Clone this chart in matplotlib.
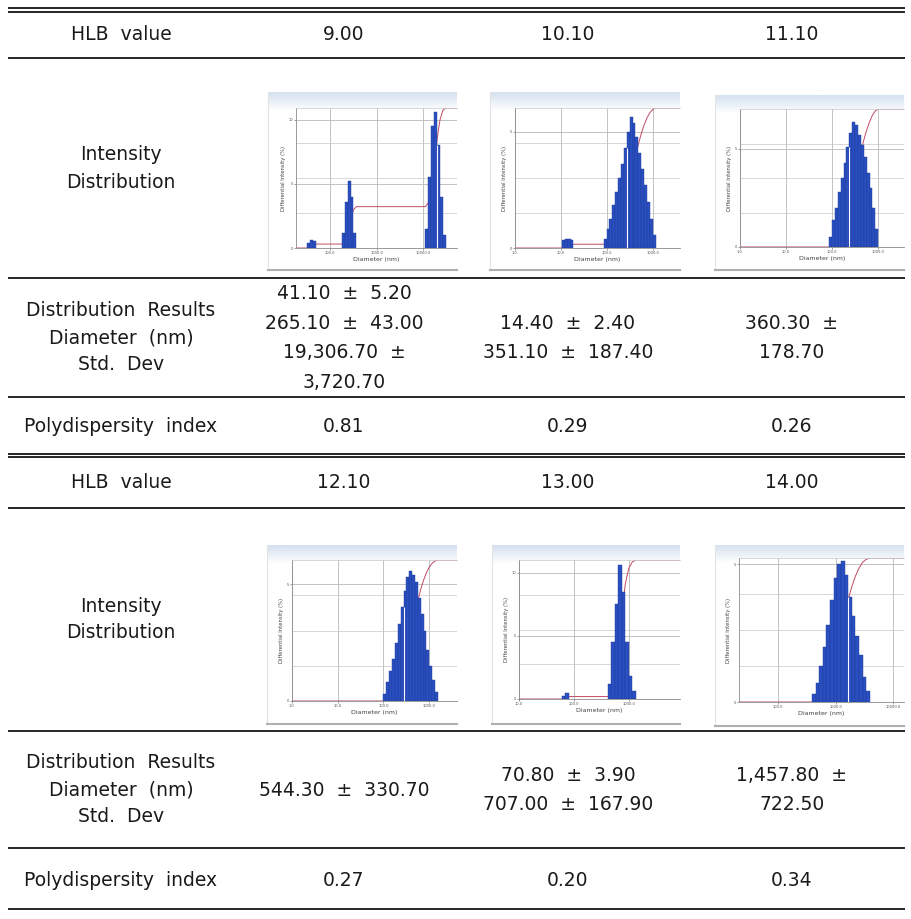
"""
HLB 값에 따른 입도 분포 결과 표 (DLS 강도 분포 포함)
"""
import numpy as np
import matplotlib.pyplot as plt
from matplotlib.colors import to_rgb
from matplotlib.ticker import NullLocator

# ---- 표 데이터 ----
hlb_values = ["9.00", "10.10", "11.10", "12.10", "13.00", "14.00"]
size_results = [
    ["41.10  ±  5.20", "265.10  ±  43.00", "19,306.70  ±", "3,720.70"],
    ["14.40  ±  2.40", "351.10  ±  187.40"],
    ["360.30  ±", "178.70"],
    ["544.30  ±  330.70"],
    ["70.80  ±  3.90", "707.00  ±  167.90"],
    ["1,457.80  ±", "722.50"],
]
pdi_values = ["0.81", "0.29", "0.26", "0.27", "0.20", "0.34"]

# ---- DLS 강도 분포: 피크별 (첫 막대 시작 직경 nm, 막대 높이 %) ----
BIN_W = 0.0628  # size class 폭 (log10)
dist_hlb_9_0 = [(31.6, [0.40, 0.65, 0.55]),
                (178.0, [1.2, 3.6, 5.2, 4.0, 1.2]),
                (10960.0, [1.5, 5.5, 9.5, 10.6, 8.0, 4.0, 1.0])]
dist_hlb_10_1 = [(10.5, [0.35, 0.38, 0.38, 0.35]),
                 (85.1, [0.40, 0.83, 1.26, 1.84, 2.41, 3.00, 3.60, 4.30, 5.00,
                         5.65, 5.40, 4.80, 4.10, 3.40, 2.70, 2.00, 1.26, 0.55])]
dist_hlb_11_1 = [(87.1, [0.5, 1.4, 2.0, 2.8, 3.5, 4.3, 5.1, 5.8, 6.4,
                         6.2, 5.7, 5.2, 4.6, 3.8, 3.0, 2.0, 0.9])]
dist_hlb_12_1 = [(100.0, [0.3, 0.8, 1.3, 1.8, 2.5, 3.3, 4.0, 4.7, 5.3, 5.56,
                          5.4, 5.1, 4.4, 3.7, 3.0, 2.2, 1.5, 0.9, 0.4])]
dist_hlb_13_0 = [(60.3, [0.25, 0.45]),
                 (417.0, [1.2, 4.5, 7.5, 10.6, 8.5, 4.5, 1.8, 0.6])]
dist_hlb_14_0 = [(389.0, [0.3, 0.7, 1.3, 2.0, 2.8, 3.7, 4.5, 5.0, 5.1,
                          4.6, 3.8, 3.1, 2.4, 1.7, 0.9, 0.4])]
distributions = [dist_hlb_9_0, dist_hlb_10_1, dist_hlb_11_1,
                 dist_hlb_12_1, dist_hlb_13_0, dist_hlb_14_0]

# ---- 그래프 축 설정 (x 범위 nm, y 최대, 눈금) ----
axis_setup = [
    dict(xlim=(18.6, 52500), ymax=10.9, xticks=[100, 1000, 10000], yticks=[0, 5, 10]),
    dict(xlim=(1.0, 3890), ymax=6.03, xticks=[1, 10, 100, 1000], yticks=[0, 5]),
    dict(xlim=(1.0, 3715), ymax=7.04, xticks=[1, 10, 100, 1000], yticks=[0, 5]),
    dict(xlim=(1.0, 4074), ymax=6.03, xticks=[1, 10, 100, 1000], yticks=[0, 5]),
    dict(xlim=(10.0, 8510), ymax=11.03, xticks=[10, 100, 1000], yticks=[0, 5, 10]),
    dict(xlim=(20.9, 15490), ymax=5.22, xticks=[100, 1000, 10000], yticks=[0, 5]),
]

# ---- 레이아웃 (픽셀 좌표) ----
W, H = 912, 919
panel_px = [(268, 92, 457, 270), (490, 92, 680, 270), (715, 95, 904, 270),
            (267, 545, 457, 724), (492, 545, 680, 724), (715, 545, 904, 726)]
plot_px = [(296, 108, 457, 248), (515, 108, 680, 248), (740, 109, 904, 247),
           (292, 560, 457, 701), (519, 560, 680, 699), (739, 558, 904, 702)]
gap_edges = [(2, 4), (1, 8), (0, 7), (0, 7), None, (0, 10)]  # 흰색 세로선 위치

col_x = [344, 568, 792]
label_x = 121
FS = 13.5
TXT = '#1a1a1a'
BAR = '#2a4fc0'

fig = plt.figure(figsize=(W / 100, H / 100), dpi=100)
bg = fig.add_axes([0, 0, 1, 1])
bg.set_xlim(0, W)
bg.set_ylim(H, 0)
bg.axis('off')


def fig_rect(x0, y0, x1, y1):
    return [x0 / W, 1 - y1 / H, (x1 - x0) / W, (y1 - y0) / H]


# 표 가로선
for y in [8, 11.7, 58, 278, 397, 454, 457, 508, 731, 848, 909]:
    bg.plot([8, 905], [y, y], color='black', lw=1.2, solid_capstyle='butt')


def put(x, y, s):
    bg.text(x, y, s, ha='center', va='center', fontsize=FS, color=TXT)


def draw_dls(i):
    """강도 분포 미니 그래프"""
    peaks = distributions[i]
    cfg = axis_setup[i]

    # 캡처 이미지 배경 (상단 그라데이션)
    pax = fig.add_axes(fig_rect(*panel_px[i]))
    grad = np.ones((100, 1, 3))
    top = np.array(to_rgb('#d6e2f0'))
    for k in range(10):
        grad[k, 0] = top + (1 - top) * k / 10
    pax.imshow(grad, aspect='auto', extent=[0, 1, 0, 1])
    pax.set_xlim(0, 1)
    pax.set_ylim(0, 1)
    pax.set_xticks([])
    pax.set_yticks([])
    pax.spines['top'].set_visible(False)
    pax.spines['right'].set_visible(False)
    pax.spines['left'].set_color('#e4e4e4')
    pax.spines['bottom'].set_color('#b0b0b0')
    pax.spines['bottom'].set_linewidth(1.5)

    ax = fig.add_axes(fig_rect(*plot_px[i]))
    ax.set_facecolor('white')
    ax.set_xscale('log')
    ax.set_xlim(*cfg['xlim'])
    ymax = cfg['ymax']
    ax.set_ylim(0, ymax)

    # 막대 + 누적 곡선
    total = sum(sum(h) for _, h in peaks)
    cx, cy = [cfg['xlim'][0]], [0.0]
    cum = 0.0
    for start, h in peaks:
        edges = 10 ** (np.log10(start) + BIN_W * np.arange(len(h) + 1))
        ax.bar(edges[:-1], h, width=np.diff(edges), align='edge', color=BAR,
               edgecolor='#1c3a96', linewidth=0.3, zorder=3)
        cx.append(edges[0])
        cy.append(cum)
        for e, v in zip(edges[1:], h):
            cum += v
            cx.append(e)
            cy.append(cum)
    cx.append(cfg['xlim'][1])
    cy.append(cum)
    ax.plot(cx, np.array(cy) / total * ymax, color='#c04a62', lw=0.7, zorder=2)

    if gap_edges[i] is not None:
        p, k = gap_edges[i]
        start, h = peaks[p]
        xe = 10 ** (np.log10(start) + BIN_W * k)
        ax.vlines(xe, 0, min(h[k - 1], h[k]), color='white', lw=0.8, zorder=4)

    # 격자
    for t in cfg['xticks']:
        ax.axvline(t, color='#b8b8b8', lw=0.6, zorder=1)
    for t in cfg['yticks'][1:]:
        ax.axhline(t, color='#b8b8b8', lw=0.6, zorder=1)
    for f in (0.25, 0.5, 0.75):
        ax.axhline(f * ymax, color='#c8c8c8', lw=0.5, zorder=1)

    ax.set_xticks(cfg['xticks'])
    ax.set_xticklabels([f"{t:.1f}" for t in cfg['xticks']])
    ax.xaxis.set_minor_locator(NullLocator())
    ax.set_yticks(cfg['yticks'])
    ax.set_yticklabels([str(t) for t in cfg['yticks']])
    ax.tick_params(labelsize=2.6, length=1.2, width=0.4, pad=1, colors='#555555')
    ax.set_xlabel('Diameter (nm)', fontsize=4.5, color='#444444', labelpad=1.5)
    ax.set_ylabel('Differential Intensity (%)', fontsize=3.8, color='#444444', labelpad=2)
    for s in ['left', 'bottom']:
        ax.spines[s].set_color('#8a8a8a')
        ax.spines[s].set_linewidth(0.6)
    ax.spines['top'].set_color('#c8c8c8')
    ax.spines['top'].set_linewidth(0.5)
    ax.spines['right'].set_visible(False)


# 두 블록 (HLB 3개씩)
blocks = [dict(y_hlb=34, y_int=(155, 182), y_dist=338, y_pdi=427),
          dict(y_hlb=482, y_int=(606, 633), y_dist=790, y_pdi=880)]
for b, blk in enumerate(blocks):
    put(label_x, blk['y_hlb'], "HLB  value")
    put(label_x, blk['y_int'][0], "Intensity")
    put(label_x, blk['y_int'][1], "Distribution")
    for j, s in enumerate(["Distribution  Results", "Diameter  (nm)", "Std.  Dev"]):
        put(label_x, blk['y_dist'] + (j - 1) * 27, s)
    put(label_x, blk['y_pdi'], "Polydispersity  index")

    for c in range(3):
        i = b * 3 + c
        put(col_x[c], blk['y_hlb'], hlb_values[i])
        lines = size_results[i]
        n = len(lines)
        for j, s in enumerate(lines):
            put(col_x[c], blk['y_dist'] + (j - (n - 1) / 2) * 29.5, s)
        put(col_x[c], blk['y_pdi'], pdi_values[i])
        draw_dls(i)

fig.savefig('out.png', dpi=100)
